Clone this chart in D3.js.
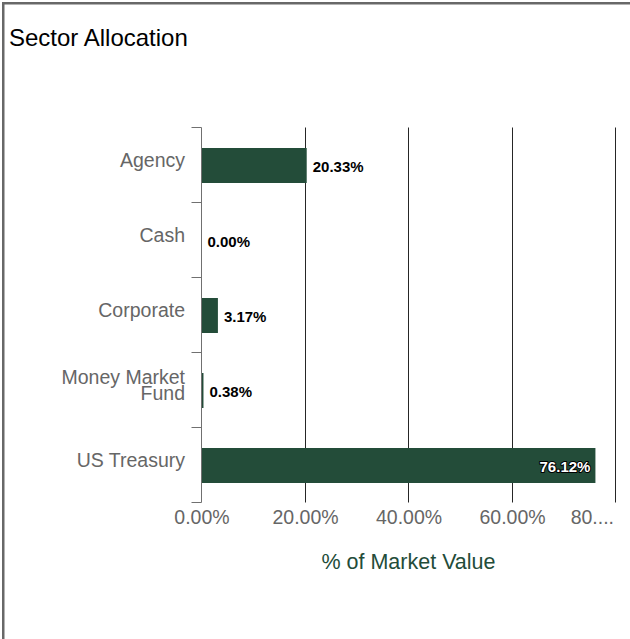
<!DOCTYPE html>
<html>
<head>
<meta charset="utf-8">
<script src="https://cdn.jsdelivr.net/npm/d3@7"></script>
<style>
  html, body { margin: 0; padding: 0; background: #fff; }
  svg { display: block; font-family: "Liberation Sans", Arial, Helvetica, sans-serif; }
</style>
</head>
<body>
<svg id="chart" width="630" height="639"></svg>
<script>
// ---- data ----
const categories = ["Agency", "Cash", "Corporate", "Money Market Fund", "US Treasury"];
const categoryLines = [["Agency"], ["Cash"], ["Corporate"], ["Money Market", "Fund"], ["US Treasury"]];
const values = [20.33, 0.00, 3.17, 0.38, 76.12];
const xTicks = [0, 20, 40, 60, 80];
const xTickLabels = ["0.00%", "20.00%", "40.00%", "60.00%", "80...."];
const title = "Sector Allocation";
const xTitle = "% of Market Value";

// ---- styles ----
const barColor = "#234c39";
const labelGray = "#666666";

const svg = d3.select("#chart");

// frame border (top & left)
svg.append("line").attr("x1", 2).attr("x2", 630).attr("y1", 3.25).attr("y2", 3.25)
  .attr("stroke", "#686868").attr("stroke-width", 2.5);
svg.append("line").attr("x1", 3.25).attr("x2", 3.25).attr("y1", 2).attr("y2", 639)
  .attr("stroke", "#686868").attr("stroke-width", 2.5);

// title
svg.append("text").attr("x", 9).attr("y", 46)
  .attr("font-size", 24).attr("fill", "#000").text(title);

const x = d3.scaleLinear().domain([0, 80]).range([201.5, 615.5]);
const y = d3.scaleBand().domain(categories).range([127.5, 502.5]).padding(0);
const bw = y.bandwidth();
const barH = 35;

const crisp = v => Math.round(v - 0.5) + 0.5;

// grid lines
svg.append("g").selectAll("line").data(xTicks.filter(d => d > 0)).join("line")
  .attr("x1", d => crisp(x(d))).attr("x2", d => crisp(x(d)))
  .attr("y1", y.range()[0]).attr("y2", y.range()[1])
  .attr("stroke", "#262626").attr("stroke-width", 1);

// bars
svg.append("g").selectAll("rect").data(values).join("rect")
  .attr("x", x(0))
  .attr("y", (d, i) => y(categories[i]) + (bw - barH) / 2 + 0.5)
  .attr("width", d => x(d) - x(0))
  .attr("height", barH)
  .attr("fill", barColor);

// y axis line and boundary ticks
const axisX = crisp(x(0));
svg.append("line").attr("x1", axisX).attr("x2", axisX)
  .attr("y1", y.range()[0]).attr("y2", y.range()[1])
  .attr("stroke", "#707070").attr("stroke-width", 1);
const bounds = categories.map(c => y(c)).concat([y.range()[1]]);
svg.append("g").selectAll("line").data(bounds).join("line")
  .attr("x1", axisX - 10).attr("x2", axisX)
  .attr("y1", d => crisp(d)).attr("y2", d => crisp(d))
  .attr("stroke", "#707070").attr("stroke-width", 1);

// category labels
const catG = svg.append("g").attr("font-size", 19.5).attr("fill", labelGray).attr("text-anchor", "end");
categoryLines.forEach((lines, i) => {
  const cy = y(categories[i]) + bw / 2 + 2;
  const lh = 15.7;
  const t = catG.append("text");
  lines.forEach((ln, j) => {
    t.append("tspan").attr("x", 185)
      .attr("y", cy + (j - (lines.length - 1) / 2) * lh)
      .text(ln);
  });
});

// value labels
const insideThreshold = 60;
svg.append("g").selectAll("text").data(values).join("text")
  .attr("font-size", 15).attr("font-weight", "bold")
  .attr("x", d => d > insideThreshold ? x(d) - 5 : x(d) + 6)
  .attr("y", (d, i) => y(categories[i]) + bw / 2 + 7)
  .attr("text-anchor", d => d > insideThreshold ? "end" : "start")
  .attr("fill", d => d > insideThreshold ? "#fff" : "#000")
  .attr("stroke", d => d > insideThreshold ? "#000" : "none")
  .attr("stroke-width", 2)
  .attr("paint-order", "stroke")
  .attr("stroke-linejoin", "round")
  .text(d => d.toFixed(2) + "%");

// x axis labels
const xAxis = d3.axisBottom(x).tickValues(xTicks).tickSize(0)
  .tickFormat((d, i) => xTickLabels[i]);
const xg = svg.append("g").attr("transform", `translate(0,${y.range()[1]})`).call(xAxis);
xg.select(".domain").remove();
xg.selectAll("text")
  .attr("font-size", 19.5).attr("fill", labelGray)
  .attr("font-family", null)
  .attr("dy", null).attr("y", 21.5);
xg.attr("font-family", null).attr("font-size", null);
xg.selectAll(".tick").filter((d, i) => i === xTicks.length - 1).select("text")
  .attr("text-anchor", "end").attr("x", -2);

// x axis title
svg.append("text").attr("x", (x.range()[0] + x.range()[1]) / 2).attr("y", 569)
  .attr("text-anchor", "middle").attr("font-size", 21.5).attr("fill", barColor)
  .text(xTitle);
</script>
</body>
</html>
